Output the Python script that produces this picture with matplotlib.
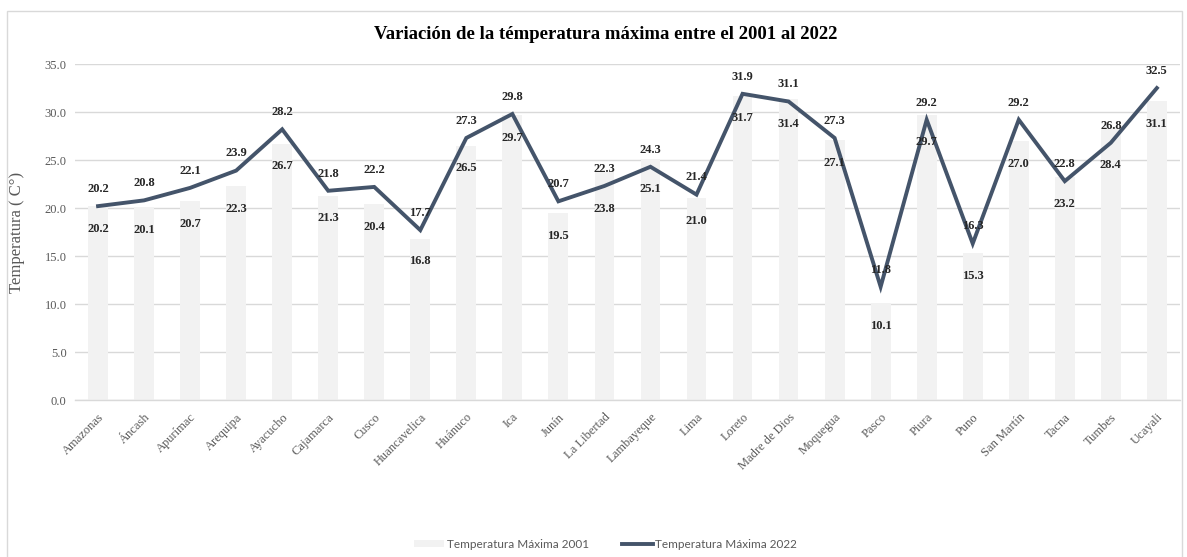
"""Variación de la temperatura máxima 2001 vs 2022 por región (barras + línea)."""

import matplotlib
matplotlib.use("Agg")
import matplotlib.pyplot as plt
from matplotlib.patches import Rectangle

regiones = ["Amazonas", "Áncash", "Apurímac", "Arequipa", "Ayacucho", "Cajamarca",
            "Cusco", "Huancavelica", "Huánuco", "Ica", "Junín", "La Libertad",
            "Lambayeque", "Lima", "Loreto", "Madre de Dios", "Moquegua", "Pasco",
            "Piura", "Puno", "San Martín", "Tacna", "Tumbes", "Ucayali"]
tmax_2001 = [20.2, 20.1, 20.7, 22.3, 26.7, 21.3, 20.4, 16.8, 26.5, 29.7, 19.5, 23.8,
             25.1, 21.0, 31.7, 31.4, 27.1, 10.1, 29.7, 15.3, 27.0, 23.2, 28.4, 31.1]
tmax_2022 = [20.2, 20.8, 22.1, 23.9, 28.2, 21.8, 22.2, 17.7, 27.3, 29.8, 20.7, 22.3,
             24.3, 21.4, 31.9, 31.1, 27.3, 11.8, 29.2, 16.3, 29.2, 22.8, 26.8, 32.5]
y_ticks = [0, 5, 10, 15, 20, 25, 30, 35]

SERIF = ["Liberation Serif", "DejaVu Serif"]
BAR_COLOR = "#f2f2f2"
LINE_COLOR = "#44546a"
TEXT_GRAY = "#595959"
LABEL_COLOR = "#262626"

fig = plt.figure(figsize=(11.87, 5.57), dpi=100)
ax = fig.add_axes([0.0632, 0.2818, 0.9308, 0.6032])

x = list(range(len(regiones)))
bars = ax.bar(x, tmax_2001, width=0.43, color=BAR_COLOR, zorder=2,
              label="Temperatura Máxima 2001")
line, = ax.plot(x, tmax_2022, color=LINE_COLOR, linewidth=2.8, zorder=3,
                solid_joinstyle="miter", label="Temperatura Máxima 2022")

# etiquetas de datos
for xi, v01, v22 in zip(x, tmax_2001, tmax_2022):
    ax.annotate(f"{v22:.1f}", (xi, v22), xytext=(0, 8), textcoords="offset points",
                ha="center", va="bottom", fontsize=9, fontweight="bold",
                family=SERIF, color=LABEL_COLOR, zorder=4)
    ax.annotate(f"{v01:.1f}", (xi, min(v01, v22)), xytext=(0, -12),
                textcoords="offset points", ha="center", va="top", fontsize=9,
                fontweight="bold", family=SERIF, color=LABEL_COLOR, zorder=4)

ax.set_xlim(-0.5, len(regiones) - 0.5)
ax.set_ylim(0, 35)
ax.set_yticks(y_ticks)
ax.set_yticklabels([f"{t:.1f}" for t in y_ticks], family=SERIF, fontsize=9,
                   color=TEXT_GRAY)
ax.set_xticks(x)
ax.set_xticklabels(regiones, rotation=45, ha="right", rotation_mode="anchor",
                   family=SERIF, fontsize=9, color=TEXT_GRAY)
ax.tick_params(axis="both", length=0, pad=6)
ax.tick_params(axis="x", pad=8)

ax.grid(axis="y", color="#d9d9d9", linewidth=1, zorder=0)
ax.set_axisbelow(True)
for s in ["top", "right", "left"]:
    ax.spines[s].set_visible(False)
ax.spines["bottom"].set_color("#d9d9d9")
ax.spines["bottom"].set_linewidth(1)

ax.set_ylabel("Temperatura ( C°)", family=SERIF, fontsize=12, color=TEXT_GRAY,
              labelpad=14)

fig.text(0.51, 0.938, "Variación de la témperatura máxima entre el 2001 al 2022",
         ha="center", va="center", family=SERIF, fontsize=13.5, fontweight="bold",
         color="black")

leg = fig.legend([bars, line], ["Temperatura Máxima 2001", "Temperatura Máxima 2022"],
                 loc="center", bbox_to_anchor=(0.51, 0.023), ncol=2, frameon=False,
                 prop={"family": "Lato", "size": 8.5}, handlelength=2.6,
                 handleheight=0.5, handletextpad=0.2, columnspacing=2.8)
for t in leg.get_texts():
    t.set_color(TEXT_GRAY)

# marco del gráfico
fig.patches.append(Rectangle((0.006, -0.01), 0.99, 0.99, transform=fig.transFigure,
                             fill=False, edgecolor="#d9d9d9", linewidth=1))

fig.savefig("out.png", dpi=100)
plt.close(fig)
